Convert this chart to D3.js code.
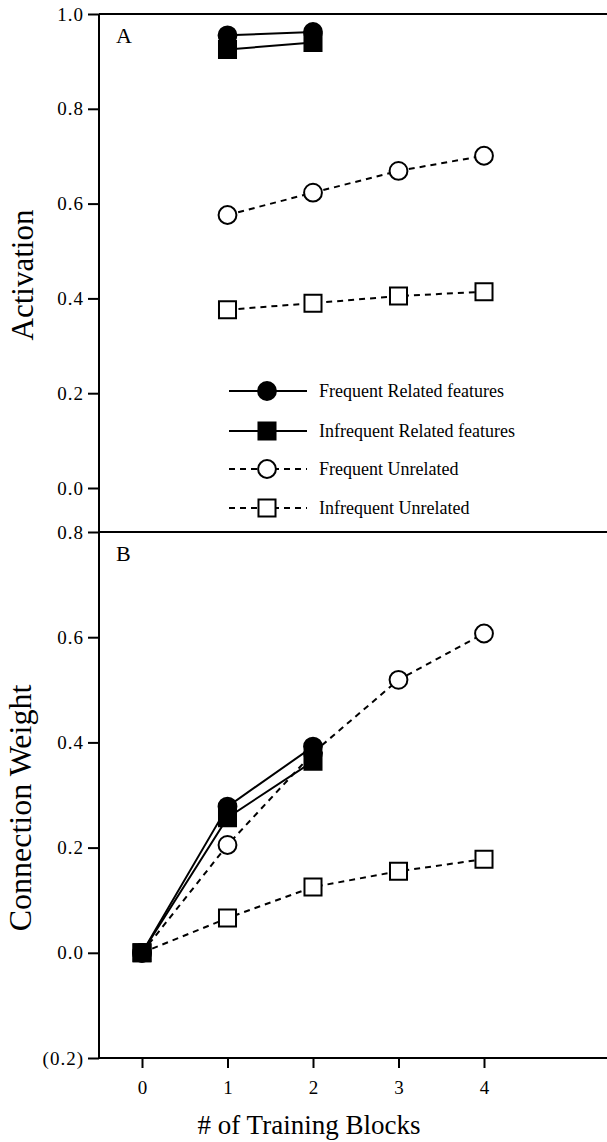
<!DOCTYPE html>
<html>
<head>
<meta charset="utf-8">
<script src="https://cdn.jsdelivr.net/npm/d3@7"></script>
<style>
  body { margin: 0; background: #fff; }
  svg text { font-family: "Liberation Serif", "Times New Roman", serif; fill: #000; }
</style>
</head>
<body>
<div id="chart"></div>
<script>
var svgWidth = 607;
var svgHeight = 1142;

// training blocks on x
var blocksRelated = [1, 2];
var blocksUnrelated = [1, 2, 3, 4];
var blocksB = [0, 1, 2];
var blocksBUnrel = [0, 1, 2, 3, 4];

// panel A - activation
var actFreqRelated = [0.955, 0.962];
var actInfreqRelated = [0.925, 0.94];
var actFreqUnrelated = [0.576, 0.623, 0.669, 0.701];
var actInfreqUnrelated = [0.376, 0.39, 0.405, 0.414];

// panel B - connection weight
var wFreqRelated = [0.0, 0.278, 0.392];
var wInfreqRelated = [0.0, 0.257, 0.364];
var wFreqUnrelated = [0.0, 0.205, 0.38, 0.519, 0.607];
var wInfreqUnrelated = [0.0, 0.066, 0.125, 0.155, 0.178];

var xTicks = [0, 1, 2, 3, 4];
var yTicksA = [0, 0.2, 0.4, 0.6, 0.8, 1.0];
var yTicksB = [-0.2, 0, 0.2, 0.4, 0.6, 0.8];

var legendLabels = ['Frequent Related features', 'Infrequent Related features',
  'Frequent Unrelated', 'Infrequent Unrelated'];

var axisX = 99;
var topA = 14;
var topB = 532;
var bottomB = 1058;

var svg = d3.select('#chart').append('svg')
  .attr('width', svgWidth)
  .attr('height', svgHeight);

var xScale = d3.scaleLinear().domain([0, 4]).range([142, 484]);

// panel A: 1.0 at top, 0.0 at 488, continues down to panel B top
var yA = d3.scaleLinear().domain([0, 1]).range([488, topA]);
var yB = d3.scaleLinear().domain([-0.2, 0.8]).range([bottomB, topB]);

function fmtA(d) { return d3.format('.1f')(d); }
function fmtB(d) { return d < 0 ? '(' + d3.format('.1f')(-d) + ')' : d3.format('.1f')(d); }

function drawYAxis(scale, ticks, fmt) {
  var g = svg.append('g')
    .attr('transform', `translate(${axisX},0)`)
    .call(d3.axisLeft(scale).tickValues(ticks).tickFormat(fmt).tickSize(11).tickPadding(4));
  g.select('.domain').remove();
  g.selectAll('.tick line').attr('stroke', '#000').attr('stroke-width', 2);
  g.selectAll('.tick text')
    .style('font-size', '19px')
    .style('letter-spacing', '1px');
  return g;
}

drawYAxis(yA, yTicksA, fmtA);
drawYAxis(yB, yTicksB, fmtB);

// vertical axis line
svg.append('line')
  .attr('x1', axisX).attr('x2', axisX)
  .attr('y1', topA).attr('y2', bottomB)
  .attr('stroke', '#000').attr('stroke-width', 2);

// horizontal borders
[topA, topB, bottomB].forEach(function(y) {
  svg.append('line')
    .attr('x1', axisX).attr('x2', svgWidth)
    .attr('y1', y).attr('y2', y)
    .attr('stroke', '#000').attr('stroke-width', 2);
});

// x axis ticks
var xAxis = svg.append('g')
  .attr('transform', `translate(0,${bottomB})`)
  .call(d3.axisBottom(xScale).tickValues(xTicks).tickFormat(d3.format('d')).tickSize(10).tickPadding(13));
xAxis.select('.domain').remove();
xAxis.selectAll('.tick line').attr('stroke', '#000').attr('stroke-width', 2);
xAxis.selectAll('.tick text').style('font-size', '19px');

// axis titles
svg.append('text')
  .attr('transform', 'translate(33,275) rotate(-90)')
  .attr('text-anchor', 'middle')
  .style('font-size', '31px')
  .text('Activation');

svg.append('text')
  .attr('transform', 'translate(31,808) rotate(-90)')
  .attr('text-anchor', 'middle')
  .style('font-size', '32px')
  .text('Connection Weight');

svg.append('text')
  .attr('x', 309).attr('y', 1134)
  .attr('text-anchor', 'middle')
  .style('font-size', '27px')
  .text('# of Training Blocks');

// panel letters
svg.append('text').attr('x', 116).attr('y', 43).style('font-size', '22px').text('A');
svg.append('text').attr('x', 116).attr('y', 561).style('font-size', '22px').text('B');

function drawLine(xs, ys, yScale, dashed) {
  var pts = xs.map(function(x, i) { return [x, ys[i]]; });
  svg.append('path')
    .datum(pts)
    .attr('fill', 'none')
    .attr('stroke', '#000')
    .attr('stroke-width', 2)
    .attr('stroke-dasharray', dashed ? '6,5' : null)
    .attr('d', d3.line().x(d => xScale(d[0])).y(d => yScale(d[1])));
}

function drawMarkers(xs, ys, yScale, shape, filled) {
  var pts = xs.map(function(x, i) { return [x, ys[i]]; });
  var sym = d3.symbol().type(shape === 'circle' ? d3.symbolCircle : d3.symbolSquare)
    .size(shape === 'circle' ? 250 : 290);
  svg.append('g').selectAll('path')
    .data(pts)
    .enter()
    .append('path')
    .attr('transform', d => `translate(${xScale(d[0])},${yScale(d[1])})`)
    .attr('d', sym)
    .attr('fill', filled ? '#000' : '#fff')
    .attr('stroke', '#000')
    .attr('stroke-width', 2);
}

// panel A
drawLine(blocksUnrelated, actFreqUnrelated, yA, true);
drawLine(blocksUnrelated, actInfreqUnrelated, yA, true);
drawLine(blocksRelated, actFreqRelated, yA, false);
drawLine(blocksRelated, actInfreqRelated, yA, false);
drawMarkers(blocksUnrelated, actFreqUnrelated, yA, 'circle', false);
drawMarkers(blocksUnrelated, actInfreqUnrelated, yA, 'square', false);
drawMarkers(blocksRelated, actFreqRelated, yA, 'circle', true);
drawMarkers(blocksRelated, actInfreqRelated, yA, 'square', true);

// panel B
drawLine(blocksBUnrel, wFreqUnrelated, yB, true);
drawLine(blocksBUnrel, wInfreqUnrelated, yB, true);
drawLine(blocksB, wFreqRelated, yB, false);
drawLine(blocksB, wInfreqRelated, yB, false);
drawMarkers(blocksBUnrel, wFreqUnrelated, yB, 'circle', false);
drawMarkers(blocksBUnrel, wInfreqUnrelated, yB, 'square', false);
drawMarkers(blocksB, wFreqRelated, yB, 'circle', true);
drawMarkers(blocksB, wInfreqRelated, yB, 'square', true);

// legend
var legendY = [391, 431, 469, 508];
var legendShapes = ['circle', 'square', 'circle', 'square'];
var legendFilled = [true, true, false, false];
var legendDashed = [false, false, true, true];

legendLabels.forEach(function(label, i) {
  var y = legendY[i];
  svg.append('line')
    .attr('x1', 229).attr('x2', 307)
    .attr('y1', y).attr('y2', y)
    .attr('stroke', '#000').attr('stroke-width', 2)
    .attr('stroke-dasharray', legendDashed[i] ? '6,5' : null);
  var sym = d3.symbol().type(legendShapes[i] === 'circle' ? d3.symbolCircle : d3.symbolSquare)
    .size(legendShapes[i] === 'circle' ? 250 : 290);
  svg.append('path')
    .attr('transform', `translate(267,${y})`)
    .attr('d', sym)
    .attr('fill', legendFilled[i] ? '#000' : '#fff')
    .attr('stroke', '#000').attr('stroke-width', 2);
  svg.append('text')
    .attr('x', 319).attr('y', y + 6)
    .style('font-size', '18px')
    .text(label);
});
</script>
</body>
</html>
